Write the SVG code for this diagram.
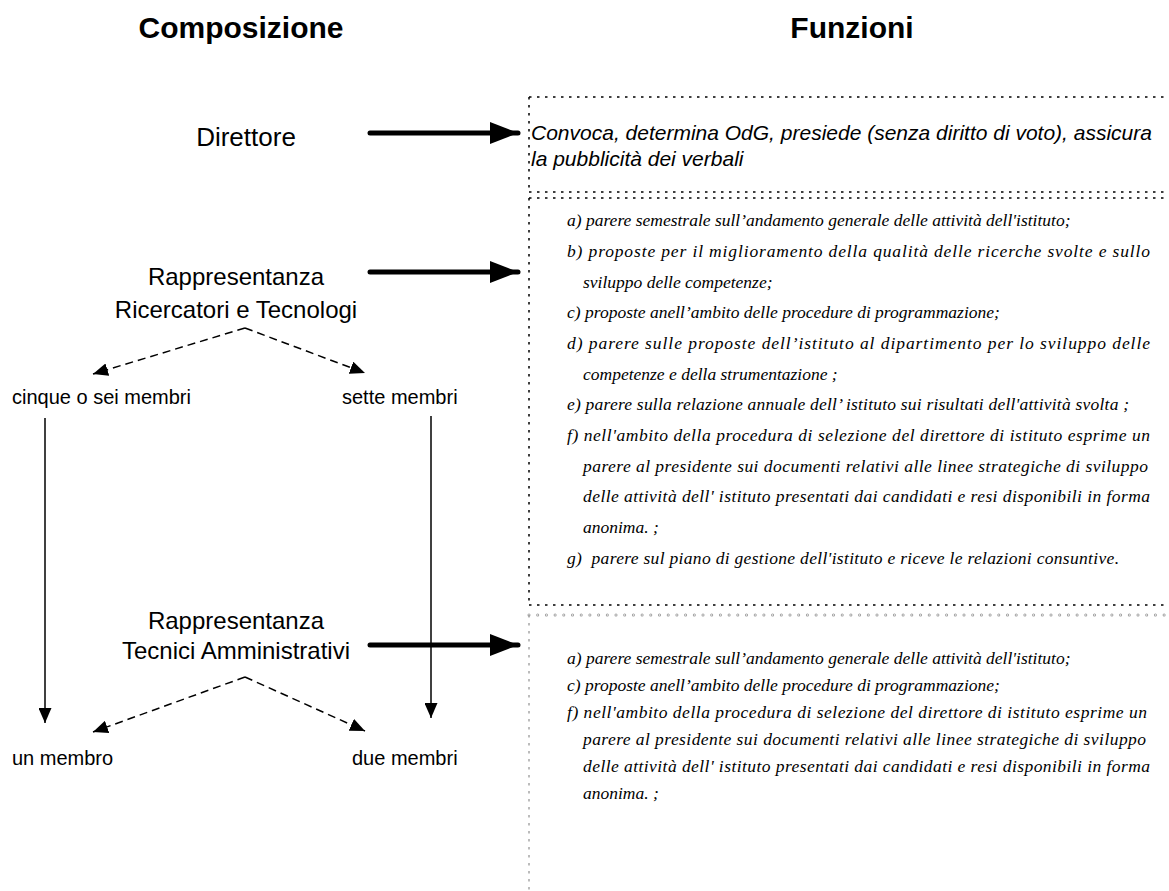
<svg xmlns="http://www.w3.org/2000/svg" width="1169" height="891" viewBox="0 0 1169 891">
<defs>
<style>
.title{font-family:"Liberation Sans",Arial,sans-serif;font-weight:bold;font-size:30px;fill:#000;text-anchor:middle}
.lab{font-family:"Liberation Sans",Arial,sans-serif;font-size:24px;fill:#000;text-anchor:middle}
.small{font-family:"Liberation Sans",Arial,sans-serif;font-size:20px;fill:#000}
.conv{font-family:"Liberation Sans",Arial,sans-serif;font-style:italic;font-size:21px;fill:#000}
.fn{font-family:"Liberation Serif","Times New Roman",serif;font-style:italic;font-size:17.5px;fill:#000}
.dot{fill:none;stroke:#000;stroke-width:1.5;stroke-dasharray:2.5 5.5}
.big{fill:none;stroke:#000;stroke-width:5;stroke-linecap:round}
.dash{fill:none;stroke:#000;stroke-width:1.5;stroke-dasharray:8 5}
.thin{fill:none;stroke:#000;stroke-width:1.5}
</style>
<marker id="bigHead" markerUnits="userSpaceOnUse" markerWidth="30" markerHeight="22" refX="28" refY="11" orient="auto">
<path d="M0,0 L28,11 L0,22 Z" fill="#000"/>
</marker>
<marker id="smallHead" markerUnits="userSpaceOnUse" markerWidth="16" markerHeight="13" refX="15" refY="6.5" orient="auto">
<path d="M0,0 L15,6.5 L0,13 Z" fill="#000"/>
</marker>
</defs>
<rect width="1169" height="891" fill="#fff"/>

<g id="titles">
<text class="title" x="241" y="38">Composizione</text>
<text class="title" x="852" y="38">Funzioni</text>
</g>

<g id="box-direttore">
<path class="dot" d="M529,97 H1169 M529,97 V192 M529,192 H1169"/>
<text class="conv" x="531" y="140">Convoca, determina OdG, presiede (senza diritto di voto), assicura</text>
<text class="conv" x="531" y="166">la pubblicità dei verbali</text>
</g>

<g id="box-ricercatori">
<path class="dot" d="M529,198 H1169 M529,198 V605 M529,605 H1169"/>
<text class="fn" x="567" y="226">a) parere semestrale sull’andamento generale delle attività dell'istituto;</text>
<text class="fn" x="567" y="257" textLength="583" lengthAdjust="spacing">b) proposte per il miglioramento della qualità delle ricerche svolte e sullo</text>
<text class="fn" x="583" y="288">sviluppo delle competenze;</text>
<text class="fn" x="567" y="318">c) proposte anell’ambito delle procedure di programmazione;</text>
<text class="fn" x="567" y="349" textLength="583" lengthAdjust="spacing">d) parere sulle proposte dell’istituto al dipartimento per lo sviluppo delle</text>
<text class="fn" x="583" y="380">competenze e della strumentazione ;</text>
<text class="fn" x="567" y="410" textLength="562" lengthAdjust="spacing">e) parere sulla relazione annuale dell’ istituto sui risultati dell'attività svolta ;</text>
<text class="fn" x="567" y="441" textLength="583" lengthAdjust="spacing">f) nell'ambito della procedura di selezione del direttore di istituto esprime un</text>
<text class="fn" x="583" y="472" textLength="565" lengthAdjust="spacing">parere al presidente sui documenti relativi alle linee strategiche di sviluppo</text>
<text class="fn" x="583" y="502" textLength="567" lengthAdjust="spacing">delle attività dell' istituto presentati dai candidati e resi disponibili in forma</text>
<text class="fn" x="583" y="533">anonima. ;</text>
<text class="fn" x="567" y="564" xml:space="preserve" textLength="552" lengthAdjust="spacing">g)  parere sul piano di gestione dell'istituto e riceve le relazioni consuntive.</text>
</g>

<g id="box-tecnici">
<path d="M529,615 H1169" fill="none" stroke="#999" stroke-width="3" stroke-linecap="round" stroke-dasharray="0 8.7"/>
<path d="M529,615 H1169" fill="none" stroke="#fff" stroke-width="1.3" stroke-linecap="round" stroke-dasharray="0 8.7"/>
<path d="M529,615 V891" fill="none" stroke="#999" stroke-width="1.3" stroke-dasharray="2.5 5.5"/>
<text class="fn" x="567" y="664">a) parere semestrale sull’andamento generale delle attività dell'istituto;</text>
<text class="fn" x="567" y="691">c) proposte anell’ambito delle procedure di programmazione;</text>
<text class="fn" x="567" y="718" textLength="580" lengthAdjust="spacing">f) nell'ambito della procedura di selezione del direttore di istituto esprime un</text>
<text class="fn" x="583" y="745" textLength="563" lengthAdjust="spacing">parere al presidente sui documenti relativi alle linee strategiche di sviluppo</text>
<text class="fn" x="583" y="772" textLength="567" lengthAdjust="spacing">delle attività dell' istituto presentati dai candidati e resi disponibili in forma</text>
<text class="fn" x="583" y="799">anonima. ;</text>
</g>

<g id="node-direttore"><text class="lab" x="246" y="146" style="font-size:26px">Direttore</text></g>
<g id="node-ricercatori">
<text class="lab" x="236" y="285">Rappresentanza</text>
<text class="lab" x="236" y="318">Ricercatori e Tecnologi</text>
</g>
<g id="node-cinque"><text class="small" x="12" y="404">cinque o sei membri</text></g>
<g id="node-sette"><text class="small" x="342" y="404">sette membri</text></g>
<g id="node-tecnici">
<text class="lab" x="236" y="629">Rappresentanza</text>
<text class="lab" x="236" y="659">Tecnici Amministrativi</text>
</g>
<g id="node-un"><text class="small" x="12" y="765">un membro</text></g>
<g id="node-due"><text class="small" x="352" y="765">due membri</text></g>

<g id="connectors">
<line class="big" x1="370" y1="133" x2="518" y2="133" marker-end="url(#bigHead)"/>
<line class="big" x1="370" y1="272" x2="518" y2="272" marker-end="url(#bigHead)"/>
<line class="big" x1="370" y1="645" x2="518" y2="645" marker-end="url(#bigHead)"/>
<line class="dash" x1="245" y1="328" x2="93" y2="374" marker-end="url(#smallHead)"/>
<line class="dash" x1="245" y1="328" x2="365" y2="373" marker-end="url(#smallHead)"/>
<line class="dash" x1="245" y1="677" x2="93" y2="732" marker-end="url(#smallHead)"/>
<line class="dash" x1="245" y1="677" x2="365" y2="731" marker-end="url(#smallHead)"/>
<line class="thin" x1="45" y1="418" x2="45" y2="723" marker-end="url(#smallHead)"/>
<line class="thin" x1="431" y1="416" x2="431" y2="718" marker-end="url(#smallHead)"/>
</g>
</svg>
